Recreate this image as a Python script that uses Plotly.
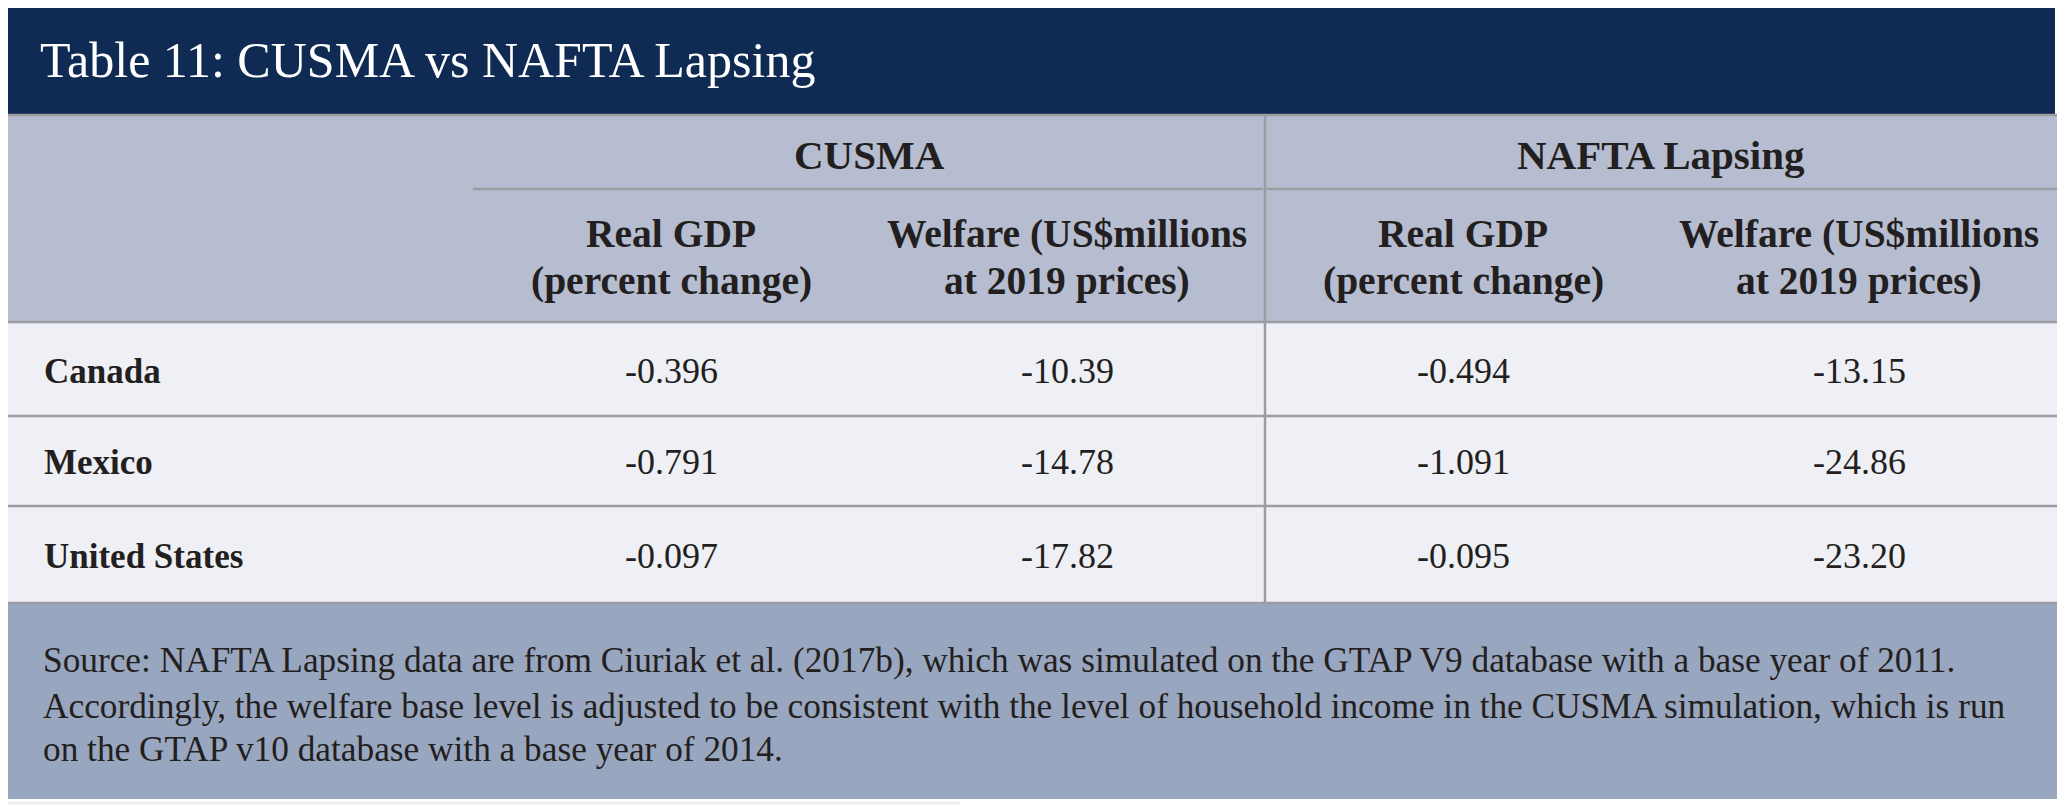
import plotly.graph_objects as go

# table content
title = "Table 11: CUSMA vs NAFTA Lapsing"
groups = ["CUSMA", "NAFTA Lapsing"]
sub_headers = [
    ["Real GDP", "(percent change)"],
    ["Welfare (US$millions", "at 2019 prices)"],
    ["Real GDP", "(percent change)"],
    ["Welfare (US$millions", "at 2019 prices)"],
]
countries = ["Canada", "Mexico", "United States"]
cusma_gdp = [-0.396, -0.791, -0.097]
cusma_welfare = [-10.39, -14.78, -17.82]
nafta_gdp = [-0.494, -1.091, -0.095]
nafta_welfare = [-13.15, -24.86, -23.20]
source_lines = [
    "Source: NAFTA Lapsing data are from Ciuriak et al. (2017b), which was simulated on the GTAP V9 database with a base year of 2011.",
    "Accordingly, the welfare base level is adjusted to be consistent with the level of household income in the CUSMA simulation, which is run",
    "on the GTAP v10 database with a base year of 2014.",
]

W, H = 2066, 806
PAGE_PAD = 8  # default body margin of the html page
SERIF = "Liberation Serif, Times New Roman, serif"
INK = "#231f20"
NAVY = "#0f2b54"
HEAD_BG = "#b6bdd0"
BODY_BG = "#eef0f5"
FOOT_BG = "#99a6bf"
RULE = "#9b9da3"

# layout geometry (page pixels)
left, right = 5, 2057
title_top, title_bot = 2, 114
head_bot = 322
group_rule_y = 189
first_col = 473
divider_x = 1265
row_edges = [322, 416, 506, 603]
foot_bot = 799

fig = go.Figure()
shapes = []
annotations = []


def rect(x0, y0, x1, y1, color):
    shapes.append(dict(type="rect", xref="x", yref="y", x0=x0, y0=y0, x1=x1, y1=y1,
                       fillcolor=color, line=dict(width=0), layer="below"))


def rule(x0, y0, x1, y1, width=2.5, color=RULE):
    shapes.append(dict(type="line", xref="x", yref="y", x0=x0, y0=y0, x1=x1, y1=y1,
                       line=dict(color=color, width=width)))


def text(x, baseline, s, size, bold=False, color=INK, anchor="center"):
    label = f"<b>{s}</b>" if bold else s
    annotations.append(dict(x=x, y=baseline - 0.3 * size, xref="x", yref="y", text=label,
                            showarrow=False, xanchor=anchor, yanchor="middle",
                            font=dict(family=SERIF, size=size, color=color)))


# background bands
rect(left - 1, title_top, right - 2, title_bot, NAVY)
rect(left, title_bot, right, head_bot, HEAD_BG)
rect(left, head_bot, right, row_edges[-1], BODY_BG)
rect(left, row_edges[-1], right, foot_bot, FOOT_BG)

# rules
rule(left, title_bot + 1, right, title_bot + 1, width=2.5)
rule(first_col, group_rule_y, divider_x - 2, group_rule_y)
rule(divider_x + 2, group_rule_y, right, group_rule_y)
for y in row_edges:
    rule(left, y, right, y)
rule(divider_x, title_bot + 2, divider_x, row_edges[-1])
rule(PAGE_PAD, H - 3, 960, H - 3, width=3, color="#ededef")

# title
text(38, 75, title, 50, color="white", anchor="left")

# column centres
group_w = (divider_x - first_col)
col_x = [first_col + group_w * 0.25, first_col + group_w * 0.75,
         divider_x + (right - divider_x) * 0.25, divider_x + (right - divider_x) * 0.75]

text((first_col + divider_x) / 2, 167, groups[0], 41, bold=True)
text((divider_x + right) / 2, 167, groups[1], 41, bold=True)

for cx, lines in zip(col_x, sub_headers):
    text(cx, 246, lines[0], 39.5, bold=True)
    text(cx, 293, lines[1], 39.5, bold=True)

# body rows
baselines = [382, 473, 567]
for i, name in enumerate(countries):
    b = baselines[i]
    text(42, b, name, 35, bold=True, anchor="left")
    text(col_x[0], b, f"{cusma_gdp[i]:.3f}", 36)
    text(col_x[1], b, f"{cusma_welfare[i]:.2f}", 36)
    text(col_x[2], b, f"{nafta_gdp[i]:.3f}", 36)
    text(col_x[3], b, f"{nafta_welfare[i]:.2f}", 36)

# source note
for line, b in zip(source_lines, [671, 717, 760]):
    text(41, b, line, 35.3, anchor="left")

# the page adds an 8px margin, so the figure is shrunk and the axes shifted to keep page coords
fig.update_layout(
    width=W - PAGE_PAD, height=H - PAGE_PAD,
    margin=dict(l=0, r=0, t=0, b=0),
    paper_bgcolor="white", plot_bgcolor="white",
    xaxis=dict(range=[PAGE_PAD, W], visible=False, fixedrange=True),
    yaxis=dict(range=[H, PAGE_PAD], visible=False, fixedrange=True),
    shapes=shapes, annotations=annotations,
    showlegend=False,
)

fig.write_html("out.html", config={"displayModeBar": False})
